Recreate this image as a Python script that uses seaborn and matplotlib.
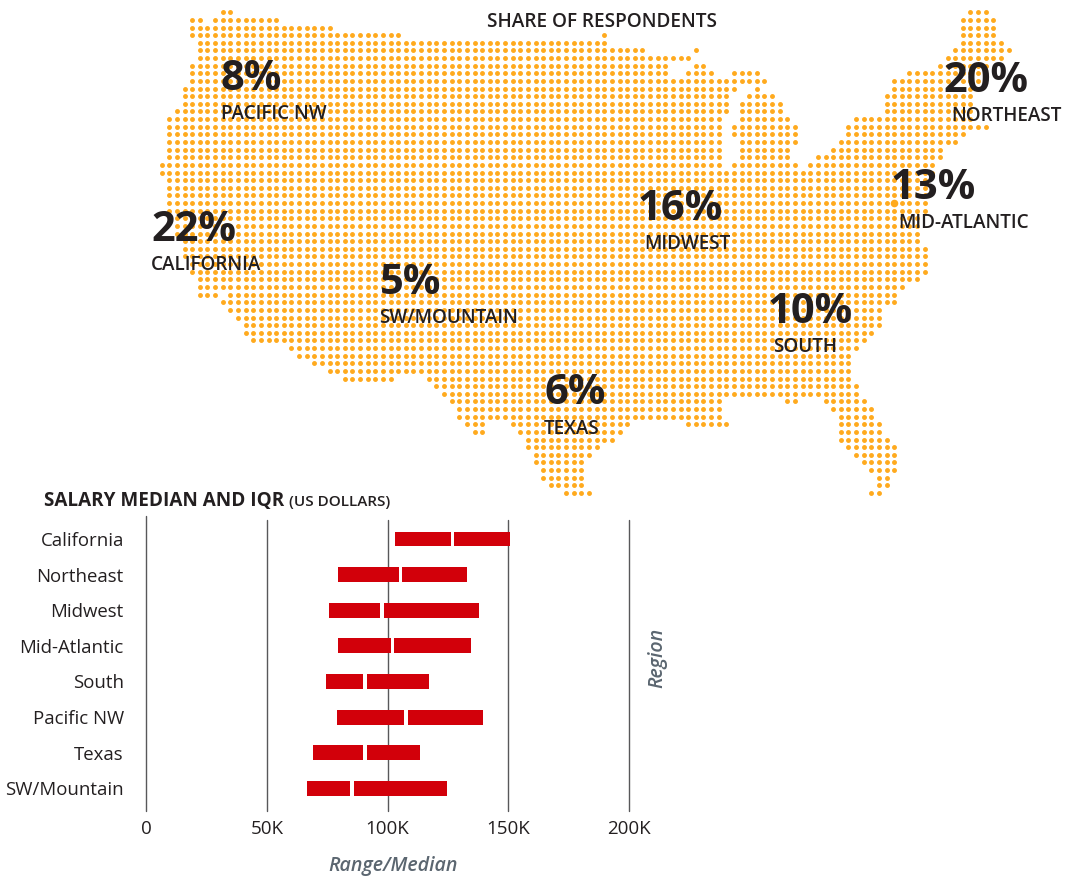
import matplotlib
matplotlib.use("Agg")
import matplotlib.pyplot as plt
import pandas as pd
import seaborn as sns

# ---- data -------------------------------------------------------------
regions = ["California", "Northeast", "Midwest", "Mid-Atlantic", "South",
           "Pacific NW", "Texas", "SW/Mountain"]
q1 = [103100, 79500, 75800, 79500, 74500, 79100, 69100, 66700]
median = [126900, 105400, 97700, 102000, 90700, 107700, 90700, 85300]
q3 = [150700, 132900, 137900, 134600, 117200, 139500, 113500, 124600]

share_names = ["PACIFIC NW", "CALIFORNIA", "SW/MOUNTAIN", "TEXAS", "MIDWEST",
               "MID-ATLANTIC", "NORTHEAST", "SOUTH"]
share_values = ["8%", "22%", "5%", "6%", "16%", "13%", "20%", "10%"]

# dot-map grid: for each grid row, the runs of occupied grid columns
map_rows = [
    [(8, 9), (106, 108)],
    [(4, 5), (7, 15), (105, 109)],
    [(4, 22), (105, 109)],
    [(4, 31), (58, 58), (105, 109)],
    [(5, 58), (105, 110)],
    [(5, 63), (70, 70), (104, 111)],
    [(5, 69), (103, 110)],
    [(4, 66), (70, 71), (102, 108)],
    [(4, 66), (69, 72), (75, 78), (98, 107)],
    [(4, 79), (96, 107)],
    [(3, 75), (78, 78), (96, 107)],
    [(3, 74), (77, 80), (95, 106)],
    [(3, 74), (76, 81), (95, 106)],
    [(2, 74), (76, 81), (95, 106)],
    [(1, 73), (76, 82), (91, 106)],
    [(1, 73), (75, 83), (90, 108)],
    [(1, 73), (75, 83), (90, 105)],
    [(1, 73), (76, 83), (89, 104)],
    [(1, 73), (76, 82), (88, 102)],
    [(1, 73), (76, 82), (86, 102)],
    [(0, 73), (75, 83), (85, 101)],
    [(0, 101)],
    [(1, 100)], [(1, 100)], [(1, 100)], [(1, 100)], [(1, 100)],
    [(2, 99)], [(2, 99)], [(2, 99)], [(3, 99)], [(3, 100)],
    [(3, 100)], [(4, 100)], [(4, 100)], [(5, 99)], [(5, 97)],
    [(5, 7), (9, 96)], [(8, 96)], [(9, 94)], [(10, 94)], [(11, 94)],
    [(11, 93)], [(12, 92)], [(17, 91)], [(18, 90)], [(20, 90)], [(22, 90)],
    [(24, 30), (35, 90)], [(36, 91)], [(37, 91)],
    [(38, 73), (82, 83), (87, 92)],
    [(39, 73), (88, 93)],
    [(39, 73), (89, 93)],
    [(40, 42), (46, 61), (69, 74), (89, 94)],
    [(41, 42), (47, 60), (89, 94)],
    [(48, 59), (89, 95)],
    [(48, 57), (90, 96)],
    [(49, 56), (91, 96)],
    [(49, 55), (92, 96)],
    [(50, 55), (93, 96)],
    [(50, 55), (94, 95)],
    [(51, 55), (94, 95)],
    [(53, 56), (93, 94)],
]
large_dot_col = [96]
large_dot_row = [25]

INK = "#231f20"
GREY = "#5b6670"
FONT = "Open Sans"

sns.set_theme(style="white")
plt.rcParams["font.family"] = [FONT, "DejaVu Sans"]

W, H = 1069, 876
fig = plt.figure(figsize=(W / 100, H / 100), dpi=100, facecolor="white")

# ---- dot map ----------------------------------------------------------
X0, Y0, PITCH = 161.7, 12.3, 7.63
map_ax = fig.add_axes([0, 0, 1, 1])
cells = [(c, r) for r, runs in enumerate(map_rows)
         for a, b in runs for c in range(a, b + 1)]
dots = pd.DataFrame(cells, columns=["col", "row"])
sns.scatterplot(data=dots, x="col", y="row", ax=map_ax, color="#FFAA1E",
                s=12.5, linewidth=0, legend=False)
sns.scatterplot(x=large_dot_col, y=large_dot_row, ax=map_ax, color="#FFAA1E",
                s=30, linewidth=0, legend=False)
map_ax.set_xlim(-X0 / PITCH, (W - X0) / PITCH)
map_ax.set_ylim((H - Y0) / PITCH, -Y0 / PITCH)
map_ax.axis("off")


def px(x, y):
    return x / W, 1 - y / H


value_xy = [(220, 90), (151, 241), (380, 294), (544, 404),
            (638, 220), (891, 199), (943, 92), (768, 323)]
name_xy = [(221, 119), (151, 270), (379.5, 323), (544, 434),
           (644, 249), (898, 228), (951, 121), (773.5, 352)]
for v, n, vp, np_ in zip(share_values, share_names, value_xy, name_xy):
    fig.text(*px(*vp), v, fontsize=30, fontweight="bold", color=INK, va="baseline")
    fig.text(*px(*np_), n, fontsize=13.6, fontweight="semibold", color=INK, va="baseline")

fig.text(*px(487, 27), "SHARE OF RESPONDENTS", fontsize=13.7, fontweight="semibold",
         color=INK, va="baseline")

# ---- salary bars ------------------------------------------------------
L, R, T, B = 146, 629, 520, 810.7
ax = fig.add_axes([L / W, 1 - B / H, (R - L) / W, (B - T) / H])
ax.patch.set_alpha(0)
df = pd.DataFrame({"region": regions, "q1": q1, "median": median, "q3": q3})
df["iqr"] = df["q3"] - df["q1"]
sns.barplot(data=df, y="region", x="iqr", left=df["q1"], ax=ax, color="#D2000A",
            width=0.42, saturation=1, orient="y", zorder=3, linewidth=0, edgecolor="none")
gap = 1500
sns.barplot(data=df, y="region", x=[gap] * len(df), left=df["median"] - gap / 2, ax=ax,
            color="white", width=0.5, saturation=1, orient="y", zorder=4, linewidth=0,
            edgecolor="none")

ax.set_xlim(0, 200000)
ax.set_ylim(7.63, -0.534)
ax.set_xticks([0, 50000, 100000, 150000, 200000])
ax.set_xticklabels(["0", "50K", "100K", "150K", "200K"])
ax.tick_params(axis="x", length=0, pad=7, labelsize=13.5, labelcolor=INK)
ax.tick_params(axis="y", length=0, pad=16, labelsize=13.4, labelcolor=INK)
for s in ax.spines.values():
    s.set_visible(False)
ax.grid(False)
for v in [50000, 100000, 150000, 200000]:
    ax.axvline(v, color="#58585a", lw=1.0, zorder=1, clip_on=False)
ax.axvline(0, ymin=0, ymax=1.014, color="#58585a", lw=1.0, zorder=1, clip_on=False)

ax.set_xlabel("Range/Median", fontsize=14.1, style="italic", fontweight="semibold", color=GREY,
              va="baseline")
ax.xaxis.set_label_coords((393 - L) / (R - L), (B - 871) / (B - T), transform=ax.transAxes)
ax.set_ylabel("Region", fontsize=14.1, style="italic", fontweight="semibold", color=GREY)
ax.yaxis.set_label_coords((662 - L) / (R - L), (B - 658) / (B - T), transform=ax.transAxes)
ax.yaxis.label.set_verticalalignment("baseline")

fig.text(*px(44, 506), "SALARY MEDIAN AND IQR", fontsize=13.6, fontweight="bold",
         color=INK, va="baseline")
fig.text(*px(289, 506), "(US DOLLARS)", fontsize=11, fontweight="semibold",
         color=INK, va="baseline")

fig.savefig("out.png", dpi=100)
